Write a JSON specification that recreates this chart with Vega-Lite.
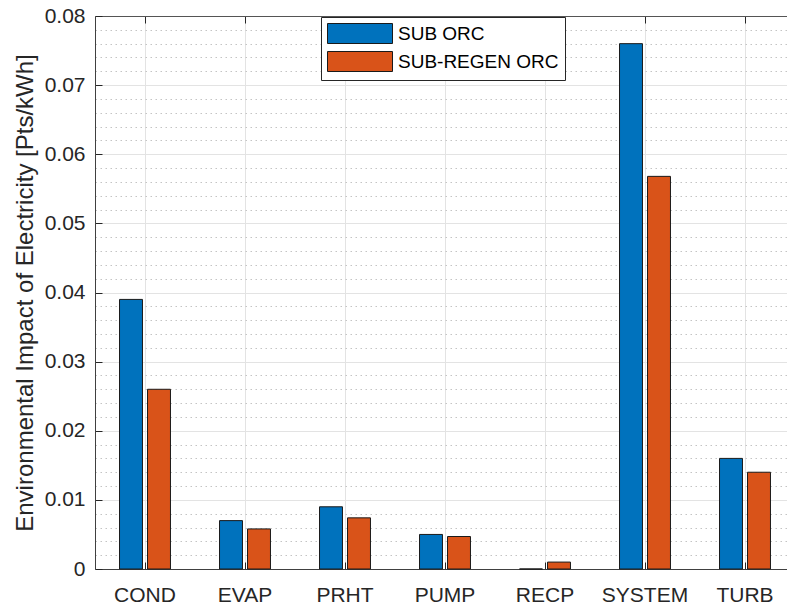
{
  "$schema": "https://vega.github.io/schema/vega-lite/v6.json",
  "autosize": "none",
  "width": 692,
  "height": 553,
  "padding": {"left": 95, "top": 16, "right": 0, "bottom": 39},
  "background": "white",
  "config": {
    "view": {"stroke": null},
    "font": "Liberation Sans"
  },
  "data": {
    "values": [
      {"component": "COND", "case": "SUB ORC", "value": 0.039},
      {"component": "COND", "case": "SUB-REGEN ORC", "value": 0.026},
      {"component": "EVAP", "case": "SUB ORC", "value": 0.007},
      {"component": "EVAP", "case": "SUB-REGEN ORC", "value": 0.0058},
      {"component": "PRHT", "case": "SUB ORC", "value": 0.009},
      {"component": "PRHT", "case": "SUB-REGEN ORC", "value": 0.0074},
      {"component": "PUMP", "case": "SUB ORC", "value": 0.005},
      {"component": "PUMP", "case": "SUB-REGEN ORC", "value": 0.0047},
      {"component": "RECP", "case": "SUB ORC", "value": 0},
      {"component": "RECP", "case": "SUB-REGEN ORC", "value": 0.001},
      {"component": "SYSTEM", "case": "SUB ORC", "value": 0.076},
      {"component": "SYSTEM", "case": "SUB-REGEN ORC", "value": 0.0568},
      {"component": "TURB", "case": "SUB ORC", "value": 0.016},
      {"component": "TURB", "case": "SUB-REGEN ORC", "value": 0.014}
    ]
  },
  "resolve": {"axis": {"x": "independent", "y": "independent"}},
  "layer": [
    {
      "mark": {"type": "bar", "stroke": "#1a1a1a", "strokeWidth": 1, "clip": false},
      "encoding": {
        "x": {
          "field": "component",
          "type": "nominal",
          "sort": null,
          "scale": {"range": [0, 700], "paddingInner": 0.44, "paddingOuter": 0.22},
          "axis": {
            "orient": "bottom",
            "title": null,
            "bandPosition": 0.5,
            "labelAngle": 0,
            "labelFontSize": 21,
            "labelColor": "#262626",
            "labelPadding": 22,
            "tickSize": -7,
            "tickColor": "#262626",
            "tickWidth": 1,
            "domainColor": "#404040",
            "domainWidth": 1,
            "grid": true,
            "gridColor": "#e3e3e3",
            "gridWidth": 1
          }
        },
        "xOffset": {
          "field": "case",
          "type": "nominal",
          "scale": {"paddingInner": 0.18, "paddingOuter": 0.09}
        },
        "y": {
          "field": "value",
          "type": "quantitative",
          "stack": null,
          "scale": {"domain": [0, 0.08], "nice": false, "zero": true},
          "axis": {
            "orient": "left",
            "values": [0, 0.01, 0.02, 0.03, 0.04, 0.05, 0.06, 0.07, 0.08],
            "labelExpr": "datum.value == 0 ? '0' : format(datum.value, '.2f')",
            "labelFontSize": 21,
            "labelColor": "#262626",
            "labelPadding": 17,
            "tickSize": -7,
            "tickColor": "#262626",
            "domainColor": "#404040",
            "grid": true,
            "gridColor": "#e3e3e3",
            "title": "Environmental Impact of Electricity [Pts/kWh]",
            "titleFontSize": 24,
            "titleFontWeight": "normal",
            "titleColor": "#262626",
            "titlePadding": 7
          }
        },
        "color": {
          "field": "case",
          "type": "nominal",
          "scale": {"domain": ["SUB ORC", "SUB-REGEN ORC"], "range": ["#0072BD", "#D95319"]},
          "legend": {
            "title": null,
            "orient": "none",
            "legendX": 226,
            "legendY": 1,
            "symbolType": "M-3.25,-1H3.25V1H-3.25Z",
            "symbolSize": 400,
            "symbolOffset": 22.5,
            "symbolStrokeColor": "#1a1a1a",
            "symbolStrokeWidth": 1,
            "symbolOpacity": 1,
            "labelFontSize": 19,
            "labelColor": "black",
            "labelOffset": 27.5,
            "labelLimit": 400,
            "padding": 6,
            "rowPadding": 3,
            "strokeColor": "#262626",
            "fillColor": "white"
          }
        }
      }
    },
    {
      "mark": {"type": "bar", "opacity": 0},
      "encoding": {
        "x": {
          "field": "component",
          "type": "nominal",
          "sort": null,
          "axis": {
            "orient": "top",
            "title": null,
            "bandPosition": 0.5,
            "labels": false,
            "tickSize": -7,
            "tickColor": "#262626",
            "domainColor": "#555555",
            "grid": false
          }
        },
        "y": {
          "field": "value",
          "type": "quantitative",
          "stack": null,
          "axis": {
            "orient": "left",
            "title": null,
            "labels": false,
            "ticks": false,
            "domain": false,
            "grid": true,
            "gridColor": "#c4c4c4",
            "gridDash": [1.5, 3.5],
            "gridWidth": 1,
            "values": [0.002, 0.004, 0.006, 0.008, 0.012, 0.014, 0.016, 0.018, 0.022, 0.024, 0.026, 0.028, 0.032, 0.034, 0.036, 0.038, 0.042, 0.044, 0.046, 0.048, 0.052, 0.054, 0.056, 0.058, 0.062, 0.064, 0.066, 0.068, 0.072, 0.074, 0.076, 0.078]
          }
        }
      }
    }
  ]
}
